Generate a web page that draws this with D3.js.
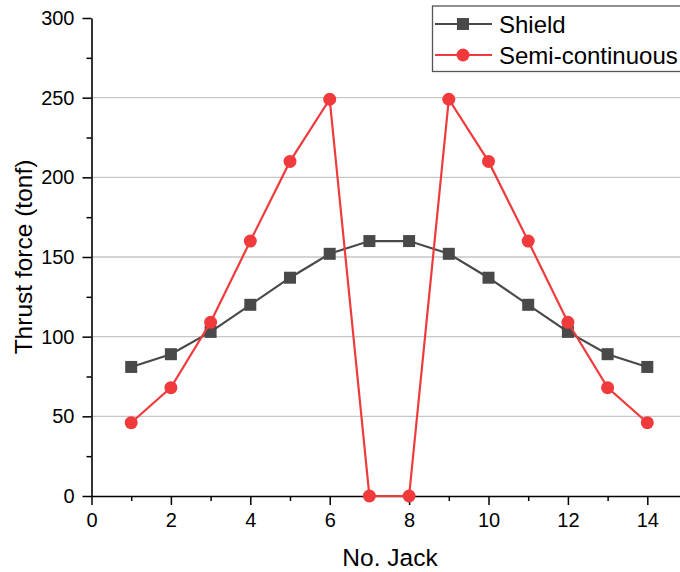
<!DOCTYPE html>
<html>
<head>
<meta charset="utf-8">
<script src="https://cdn.jsdelivr.net/npm/d3@7"></script>
<style>
  body { margin: 0; background: #fff; }
  svg { display: block; font-family: "Liberation Sans", Arial, sans-serif; }
</style>
</head>
<body>
<div id="chart"></div>
<script>
// jack numbers and thrust force values (tonf)
const jacks = [1, 2, 3, 4, 5, 6, 7, 8, 9, 10, 11, 12, 13, 14];
const shield = [81, 89, 103, 120, 137, 152, 160, 160, 152, 137, 120, 103, 89, 81];
const semiContinuous = [46, 68, 109, 160, 210, 249, 0, 0, 249, 210, 160, 109, 68, 46];
const seriesNames = ['Shield', 'Semi-continuous'];
const yTicks = [0, 50, 100, 150, 200, 250, 300];
const xTicks = [0, 2, 4, 6, 8, 10, 12, 14];

const width = 680, height = 572;
const margin = {left: 91.5, top: 18, bottom: 76};
const red = '#f03a3c', gray = '#494949';

const svg = d3.select('#chart').append('svg')
    .attr('width', width)
    .attr('height', height);

const x = d3.scaleLinear().domain([0, 15]).range([margin.left, 687]);
const y = d3.scaleLinear().domain([0, 300]).range([height - margin.bottom, margin.top]);

// grid lines
svg.append('g')
    .selectAll('line')
    .data(yTicks.filter(d => d > 0 && d < 300))
    .enter().append('line')
    .attr('x1', margin.left).attr('x2', width)
    .attr('y1', d => y(d)).attr('y2', d => y(d))
    .attr('stroke', '#c6c6c6')
    .attr('stroke-width', 1.3);

// minor ticks
svg.append('g')
    .attr('transform', `translate(0, ${y(0)})`)
    .call(d3.axisBottom(x).tickValues(d3.range(1, 15, 2)).tickSize(5).tickFormat(''))
    .call(g => g.select('.domain').remove())
    .selectAll('line').attr('stroke', '#000').attr('stroke-width', 1.5);
svg.append('g')
    .attr('transform', `translate(${margin.left}, 0)`)
    .call(d3.axisLeft(y).tickValues(d3.range(25, 300, 50)).tickSize(5).tickFormat(''))
    .call(g => g.select('.domain').remove())
    .selectAll('line').attr('stroke', '#000').attr('stroke-width', 1.5);

// x axis
const xAxis = svg.append('g')
    .attr('transform', `translate(0, ${y(0)})`)
    .call(d3.axisBottom(x).tickValues(xTicks).tickSize(9).tickSizeOuter(0).tickPadding(8));
xAxis.select('.domain').attr('stroke', '#000').attr('stroke-width', 1.6);
xAxis.selectAll('line').attr('stroke', '#000').attr('stroke-width', 1.5);
xAxis.selectAll('text').attr('font-size', 20).attr('fill', '#000');

// y axis
const yAxis = svg.append('g')
    .attr('transform', `translate(${margin.left}, 0)`)
    .call(d3.axisLeft(y).tickValues(yTicks).tickSize(9).tickSizeOuter(0).tickPadding(8));
yAxis.select('.domain').attr('stroke', '#000').attr('stroke-width', 1.6);
yAxis.selectAll('line').attr('stroke', '#000').attr('stroke-width', 1.5);
yAxis.selectAll('text').attr('font-size', 20).attr('fill', '#000');

// axis titles
svg.append('text')
    .text('No. Jack')
    .attr('x', 390).attr('y', 566)
    .attr('text-anchor', 'middle')
    .attr('font-size', 24.5);
svg.append('text')
    .text('Thrust force (tonf)')
    .attr('transform', `translate(32, ${y(150)}) rotate(-90)`)
    .attr('text-anchor', 'middle')
    .attr('font-size', 24.5);

const line = d3.line().x(d => x(d[0])).y(d => y(d[1]));

// shield series
const shieldData = jacks.map((j, i) => [j, shield[i]]);
svg.append('path')
    .datum(shieldData)
    .attr('d', line)
    .attr('fill', 'none')
    .attr('stroke', gray)
    .attr('stroke-width', 2.2);
svg.append('g').selectAll('rect')
    .data(shieldData)
    .enter().append('rect')
    .attr('x', d => x(d[0]) - 6)
    .attr('y', d => y(d[1]) - 6)
    .attr('width', 12).attr('height', 12)
    .attr('fill', gray);

// semi-continuous series
const semiData = jacks.map((j, i) => [j, semiContinuous[i]]);
svg.append('path')
    .datum(semiData)
    .attr('d', line)
    .attr('fill', 'none')
    .attr('stroke', red)
    .attr('stroke-width', 2.2);
svg.append('g').selectAll('circle')
    .data(semiData)
    .enter().append('circle')
    .attr('cx', d => x(d[0]))
    .attr('cy', d => y(d[1]))
    .attr('r', 6.5)
    .attr('fill', red);

// legend
const legend = svg.append('g');
legend.append('rect')
    .attr('x', 432.5).attr('y', 6)
    .attr('width', 260).attr('height', 65.5)
    .attr('fill', '#fff')
    .attr('stroke', '#555')
    .attr('stroke-width', 1.3);
const legendRows = legend.selectAll('g')
    .data(seriesNames)
    .enter().append('g')
    .attr('transform', (d, i) => `translate(0, ${i === 0 ? 24 : 55})`);
legendRows.append('line')
    .attr('x1', 435).attr('x2', 492)
    .attr('stroke', (d, i) => i === 0 ? gray : red)
    .attr('stroke-width', 2.2);
legendRows.each(function(d, i) {
    const g = d3.select(this);
    if (i === 0) {
        g.append('rect').attr('x', 457).attr('y', -6).attr('width', 12).attr('height', 12).attr('fill', gray);
    } else {
        g.append('circle').attr('cx', 463).attr('r', 6.5).attr('fill', red);
    }
});
legendRows.append('text')
    .text(d => d)
    .attr('x', 499).attr('y', 8.5)
    .attr('font-size', 24);
</script>
</body>
</html>
